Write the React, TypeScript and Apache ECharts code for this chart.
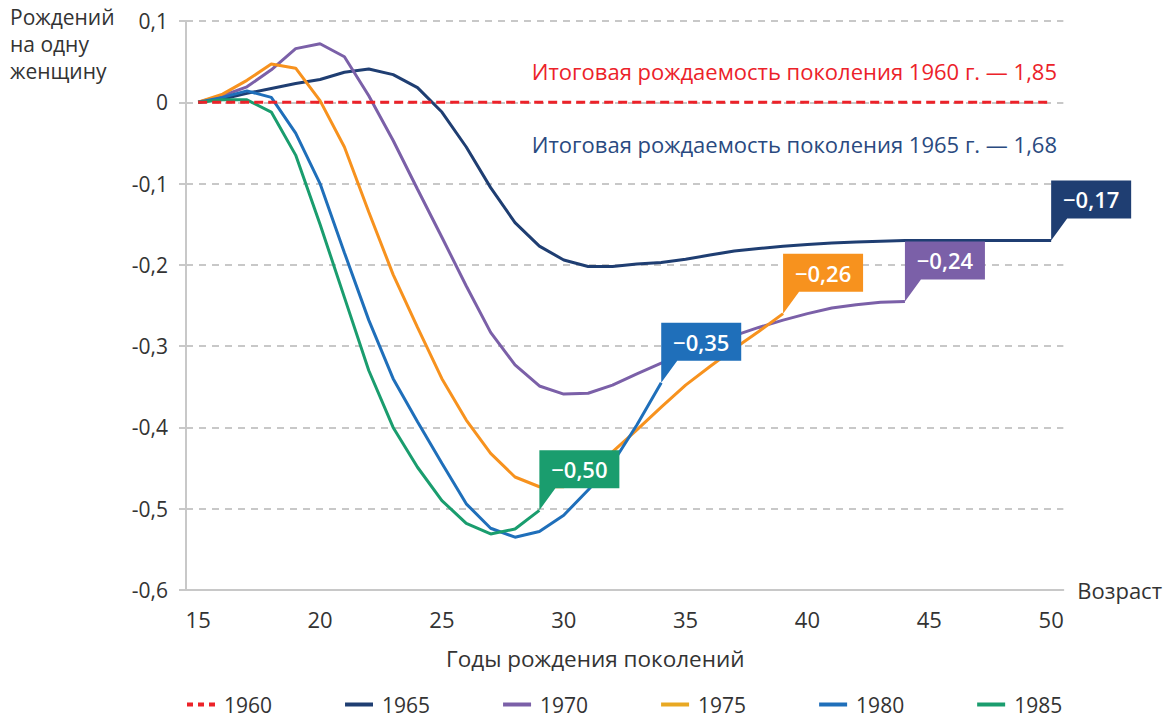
import { useEffect, useRef } from "react";
import * as echarts from "echarts";

const ages = ["15","16","17","18","19","20","21","22","23","24","25","26","27","28","29","30","31","32","33","34","35","36","37","38","39","40","41","42","43","44","45","46","47","48","49","50"];

const s1960 = [0,0,0,0,0,0,0,0,0,0,0,0,0,0,0,0,0,0,0,0,0,0,0,0,0,0,0,0,0,0,0,0,0,0,0,0];
const s1965 = [0,0.004,0.011,0.017,0.023,0.028,0.037,0.041,0.034,0.018,-0.012,-0.055,-0.105,-0.148,-0.177,-0.194,-0.202,-0.202,-0.199,-0.197,-0.193,-0.188,-0.183,-0.18,-0.177,-0.175,-0.173,-0.172,-0.171,-0.17,-0.17,-0.17,-0.17,-0.17,-0.17,-0.17];
const s1970 = [0,0.008,0.019,0.04,0.066,0.072,0.056,0.008,-0.047,-0.107,-0.166,-0.226,-0.283,-0.323,-0.349,-0.359,-0.358,-0.348,-0.334,-0.321,-0.308,-0.297,-0.287,-0.277,-0.268,-0.26,-0.253,-0.249,-0.246,-0.245];
const s1975 = [0,0.01,0.027,0.047,0.042,0.002,-0.055,-0.135,-0.212,-0.277,-0.34,-0.391,-0.432,-0.461,-0.473,-0.473,-0.456,-0.43,-0.403,-0.375,-0.348,-0.325,-0.303,-0.282,-0.26];
const s1980 = [0,0.006,0.014,0.006,-0.038,-0.1,-0.185,-0.268,-0.34,-0.393,-0.444,-0.494,-0.524,-0.535,-0.528,-0.508,-0.477,-0.444,-0.397,-0.345];
const s1985 = [0,0.003,0.003,-0.012,-0.065,-0.15,-0.24,-0.33,-0.4,-0.449,-0.49,-0.518,-0.531,-0.525,-0.502];

const seriesNames = ["1960","1965","1970","1975","1980","1985"];
const endLabels = ["", "−0,17", "−0,24", "−0,26", "−0,35", "−0,50"];

const COLORS = ["#EC2229", "#1F3E72", "#7B60A8", "#F7921E", "#1F6FBA", "#1A9D6E"];
const LEGEND_COLORS = ["#EC2229", "#1F3E72", "#7B60A8", "#E8A823", "#1F6FBA", "#1A9D6E"];
const FONT = "'Open Sans', 'Noto Sans', sans-serif";
const CALLOUT = "path://M0,0 L80,0 L80,38 L16,38 L0,60 Z";
const DASH_ICON = "path://M0,0 h6 v4 h-6 Z M11,0 h6 v4 h-6 Z M22,0 h6 v4 h-6 Z";

export default function App() {
  const ref = useRef<HTMLDivElement>(null);
  useEffect(() => {
    if (!ref.current) return;
    const chart = echarts.init(ref.current, null, { renderer: "svg" });
    const data = [s1960, s1965, s1970, s1975, s1980, s1985];
    const series: any[] = data.map((d, i) => {
      const s: any = {
        name: seriesNames[i],
        type: "line",
        data: d,
        symbol: "none",
        z: i === 0 ? 10 : 2 + i,
        lineStyle: { color: COLORS[i], width: 3, type: i === 0 ? [9, 5] : "solid" },
        itemStyle: { color: COLORS[i] },
      };
      if (endLabels[i]) {
        s.markPoint = {
          symbol: CALLOUT,
          symbolSize: [80, 60],
          symbolOffset: [40, -30],
          silent: true,
          z: 20,
          itemStyle: { color: COLORS[i] },
          label: {
            show: true,
            color: "#fff",
            fontSize: 22,
            fontWeight: 600,
            fontFamily: FONT,
            offset: [0, -11],
            formatter: "{b}",
          },
          data: [{ name: endLabels[i], coord: [ages[d.length - 1], d[d.length - 1]] }],
        };
      }
      return s;
    });

    chart.setOption({
      animation: false,
      grid: { left: 186, right: 99, top: 21, bottom: 128 },
      xAxis: {
        type: "category",
        data: ages,
        boundaryGap: true,
        name: "Возраст",
        nameLocation: "end",
        nameGap: 14,
        nameTextStyle: { fontSize: 22, color: "#333", fontFamily: FONT },
        axisLine: { onZero: false, lineStyle: { color: "#C8C8C8", width: 2 } },
        axisTick: { show: false },
        axisLabel: { interval: 4, fontSize: 22, color: "#333", margin: 18, fontFamily: FONT },
        splitLine: { show: false },
      },
      yAxis: {
        type: "value",
        min: -0.6,
        max: 0.1,
        interval: 0.1,
        axisLine: { show: true, lineStyle: { color: "#C8C8C8", width: 2 } },
        axisTick: { show: true, length: 7, lineStyle: { color: "#C8C8C8", width: 2 } },
        axisLabel: {
          fontSize: 21,
          color: "#333",
          margin: 18,
          fontFamily: FONT,
          formatter: (v: number) => {
            const r = Math.round(v * 10) / 10;
            if (r === 0) return "0";
            return r.toFixed(1).replace(".", ",");
          },
        },
        splitLine: { show: true, lineStyle: { color: "#C8C8C8", width: 2, type: [7, 6] } },
      },
      legend: {
        data: seriesNames.map((n, i) => ({
          name: n,
          icon: i === 0 ? DASH_ICON : "rect",
          itemStyle: { color: LEGEND_COLORS[i] },
        })),
        left: 187,
        top: 694,
        padding: 0,
        itemWidth: 28,
        itemHeight: 4,
        itemGap: 73,
        textStyle: { fontSize: 21, lineHeight: 21, color: "#333", fontFamily: FONT, padding: [0, 0, 0, 4] },
      },
      graphic: [
        {
          type: "text",
          left: 10,
          top: 3,
          style: { text: "Рождений\nна одну\nженщину", font: `21px ${FONT}`, fill: "#333", lineHeight: 27 },
        },
        {
          type: "text",
          right: 108,
          top: 60,
          style: { text: "Итоговая рождаемость поколения 1960 г. — 1,85", font: `22px ${FONT}`, fill: "#EC2229" },
        },
        {
          type: "text",
          right: 108,
          top: 133,
          style: { text: "Итоговая рождаемость поколения 1965 г. — 1,68", font: `22px ${FONT}`, fill: "#2A4A80" },
        },
        {
          type: "text",
          left: 446,
          top: 647,
          style: { text: "Годы рождения поколений", font: `22.5px ${FONT}`, fill: "#333" },
        },
      ],
      series,
    });
    return () => chart.dispose();
  }, []);
  return <div ref={ref} style={{ width: 1165, height: 718, position: "absolute", left: 0, top: 0 }} />;
}
